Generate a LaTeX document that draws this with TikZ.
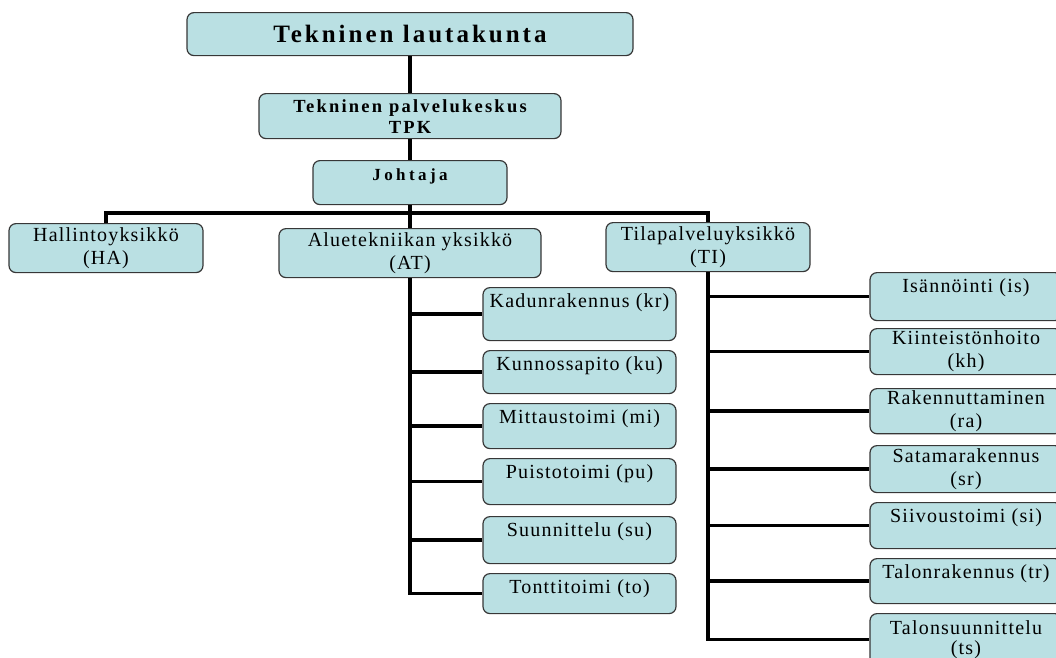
\documentclass[tikz,border=0pt]{standalone}
\usepackage{fontspec}
\setmainfont{Liberation Serif}
\newfontfamily\unitfont[LetterSpace=6]{Liberation Serif}
\newfontfamily\headfont[LetterSpace=12]{Liberation Serif}
\newfontfamily\bossfont[LetterSpace=20]{Liberation Serif}
\definecolor{boxfill}{RGB}{186,224,227}
\definecolor{boxline}{RGB}{55,55,55}
\tikzset{
  unit/.style={draw=boxline, line width=1.2pt, fill=boxfill, rounded corners=7pt,
    anchor=north, align=center, inner xsep=2pt, inner ysep=2pt,
    font=\unitfont\fontsize{20}{23}\selectfont},
  oneline/.style={text height=18pt, text depth=#1},
  head/.style 2 args={unit, font=\headfont\bfseries\fontsize{#1}{#2}\selectfont},
  link/.style={line width=3.5pt},
}
\begin{document}
\begin{tikzpicture}[x=1pt, y=-1pt]
  \clip (0,0) rectangle (1056,657);
  % johto
  \node[head={25}{28}, minimum width=446, minimum height=43] (lauta) at (410,12) {Tekninen lautakunta};
  \node[head={18.5}{21}, minimum width=302, minimum height=45] (tpk) at (410,93) {Tekninen palvelukeskus\\TPK};
  \node[unit, font=\bossfont\bfseries\fontsize{17}{19}\selectfont, oneline=22pt, minimum width=194] (joht) at (410,160) {Johtaja};

  % yksiköt
  \node[unit, minimum width=194, minimum height=49] (ha) at (106,223) {Hallintoyksikkö\\(HA)};
  \node[unit, minimum width=262, minimum height=49] (at) at (410,228) {Aluetekniikan yksikkö\\(AT)};
  \node[unit, minimum width=204, minimum height=49] (ti) at (708,222) {Tilapalveluyksikkö\\(TI)};

  % AT:n alla
  \node[unit, oneline=31pt, minimum width=193] (kr) at (579.5,287) {Kadunrakennus (kr)};
  \node[unit, oneline=21pt, minimum width=193] (ku) at (579.5,350) {Kunnossapito (ku)};
  \node[unit, oneline=23pt, minimum width=193] (mi) at (579.5,403) {Mittaustoimi (mi)};
  \node[unit, oneline=24pt, minimum width=193] (pu) at (579.5,458) {Puistotoimi (pu)};
  \node[unit, oneline=25pt, minimum width=193] (su) at (579.5,516) {Suunnittelu (su)};
  \node[unit, oneline=18pt, minimum width=193] (to) at (579.5,573) {Tonttitoimi (to)};

  % TI:n alla
  \node[unit, oneline=26pt, minimum width=192] (is) at (966,272) {Isännöinti (is)};
  \node[unit, minimum width=192, minimum height=46] (kh) at (966,328) {Kiinteistönhoito\\(kh)};
  \node[unit, minimum width=192, minimum height=42] (ra) at (966,388) {Rakennuttaminen\\(ra)};
  \node[unit, minimum width=192, minimum height=47] (sr) at (966,445) {Satamarakennus\\(sr)};
  \node[unit, oneline=24pt, minimum width=192] (si) at (966,502) {Siivoustoimi (si)};
  \node[unit, oneline=23pt, minimum width=192] (tr) at (966,558) {Talonrakennus (tr)};
  \node[unit, minimum width=192, minimum height=52, inner ysep=0pt] (ts) at (966,613) {Talonsuunnittelu\\[-3pt](ts)};

  \coordinate (bus) at (410,213);
  \draw[link] (lauta) -- (tpk);
  \draw[link] (tpk) -- (joht);
  \draw[link] (joht) -- (at);
  \draw[link] (ha.north) |- (bus) -| (ti.north);
  \foreach \n in {kr,ku,mi,pu,su,to}
    \draw[link] (at.south) |- (\n.west);
  \foreach \n in {is,kh,ra,sr,si,tr,ts}
    \draw[link] (ti.south) |- (\n.west);
\end{tikzpicture}
\end{document}
